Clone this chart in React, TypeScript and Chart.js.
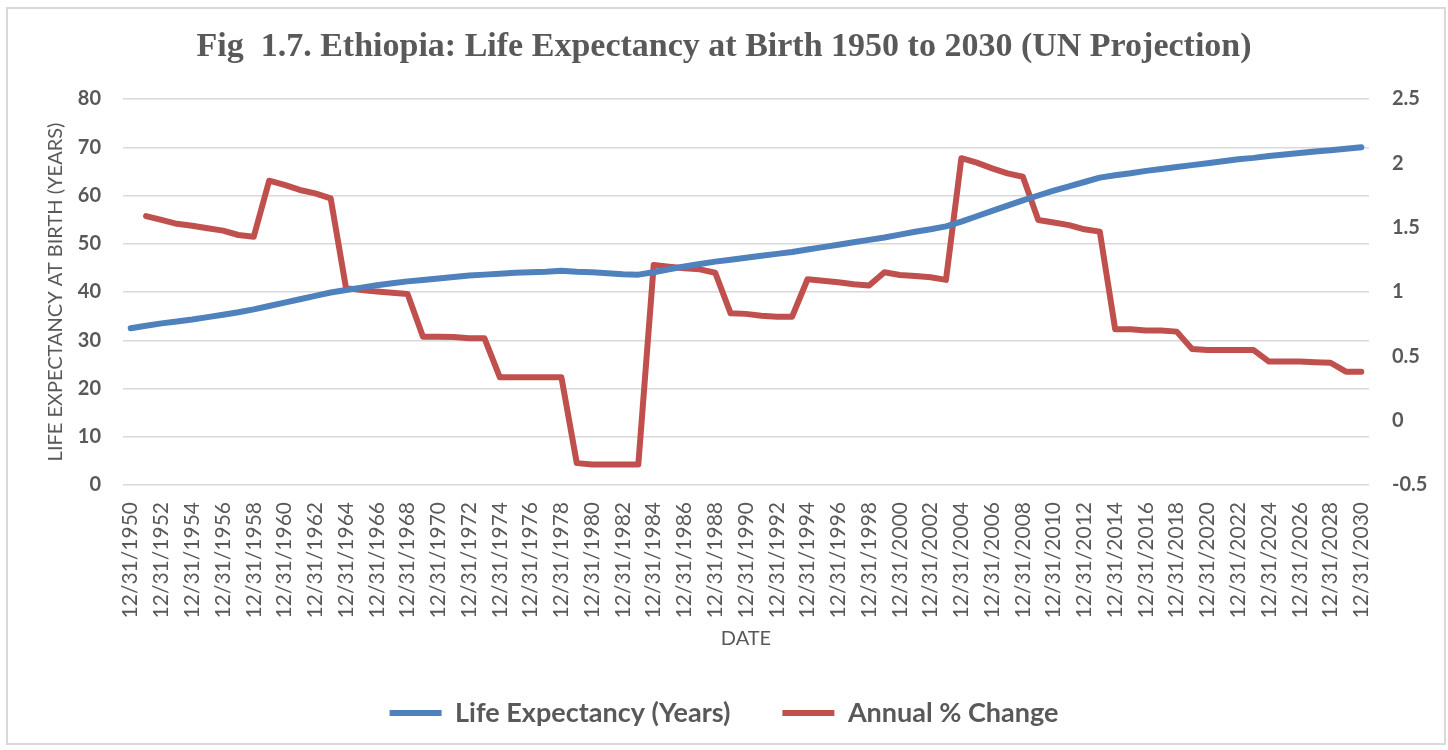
import React, { useEffect, useRef } from 'react';
import { Chart, registerables } from 'chart.js';

Chart.register(...registerables);

const years = [
  1950, 1951, 1952, 1953, 1954, 1955, 1956, 1957, 1958, 1959,
  1960, 1961, 1962, 1963, 1964, 1965, 1966, 1967, 1968, 1969,
  1970, 1971, 1972, 1973, 1974, 1975, 1976, 1977, 1978, 1979,
  1980, 1981, 1982, 1983, 1984, 1985, 1986, 1987, 1988, 1989,
  1990, 1991, 1992, 1993, 1994, 1995, 1996, 1997, 1998, 1999,
  2000, 2001, 2002, 2003, 2004, 2005, 2006, 2007, 2008, 2009,
  2010, 2011, 2012, 2013, 2014, 2015, 2016, 2017, 2018, 2019,
  2020, 2021, 2022, 2023, 2024, 2025, 2026, 2027, 2028, 2029,
  2030,
];

const lifeExpectancy = [
  32.5, 33.0, 33.5, 33.9, 34.3, 34.8, 35.3, 35.8, 36.4, 37.1,
  37.8, 38.5, 39.2, 39.9, 40.4, 40.9, 41.4, 41.8, 42.2, 42.5,
  42.8, 43.1, 43.4, 43.6, 43.8, 44.0, 44.1, 44.2, 44.4, 44.2,
  44.1, 43.9, 43.7, 43.6, 44.1, 44.7, 45.3, 45.8, 46.3, 46.7,
  47.1, 47.5, 47.9, 48.3, 48.8, 49.3, 49.8, 50.3, 50.8, 51.3,
  51.9, 52.5, 53.0, 53.6, 54.6, 55.7, 56.8, 57.9, 59.0, 60.0,
  61.0, 61.9, 62.8, 63.7, 64.2, 64.6, 65.1, 65.5, 65.9, 66.3,
  66.7, 67.1, 67.5, 67.8, 68.2, 68.5, 68.8, 69.1, 69.4, 69.7,
  70.0,
];

const annualChange = [
  null, 1.59, 1.56, 1.53, 1.515, 1.495, 1.477, 1.443, 1.43, 1.865,
  1.832, 1.793, 1.767, 1.728, 1.03, 1.016, 1.003, 0.995, 0.985, 0.653,
  0.653, 0.65, 0.64, 0.64, 0.337, 0.337, 0.337, 0.337, 0.337, -0.33,
  -0.34, -0.34, -0.34, -0.34, 1.21, 1.197, 1.184, 1.176, 1.15, 0.834,
  0.83, 0.816, 0.808, 0.808, 1.099, 1.088, 1.075, 1.06, 1.05, 1.153,
  1.132, 1.125, 1.114, 1.094, 2.04, 2.005, 1.961, 1.922, 1.896, 1.56,
  1.54, 1.52, 1.487, 1.469, 0.71, 0.71, 0.70, 0.70, 0.692, 0.557,
  0.549, 0.549, 0.549, 0.549, 0.459, 0.459, 0.459, 0.454, 0.45, 0.381,
  0.381,
];

const dateLabels = years.map((y) => '12/31/' + y);

const titleText = 'Fig  1.7. Ethiopia: Life Expectancy at Birth 1950 to 2030 (UN Projection)';
const leftAxisTitle = 'LIFE EXPECTANCY AT BIRTH (YEARS)';
const xAxisTitle = 'DATE';
const seriesNames = ['Life Expectancy (Years)', 'Annual % Change'];

const GREY = '#595959';
const GRID = '#d9d9d9';

export default function App() {
  const ref = useRef<HTMLCanvasElement | null>(null);

  useEffect(() => {
    if (!ref.current) return;
    const chart = new Chart(ref.current, {
      type: 'line',
      data: {
        labels: dateLabels,
        datasets: [
          {
            label: seriesNames[0],
            data: lifeExpectancy,
            yAxisID: 'y',
            borderColor: '#4F81BD',
            backgroundColor: '#4F81BD',
            borderWidth: 6,
            pointRadius: 0,
            borderCapStyle: 'round',
            borderJoinStyle: 'round',
            tension: 0,
          },
          {
            label: seriesNames[1],
            data: annualChange,
            yAxisID: 'y1',
            borderColor: '#C0504D',
            backgroundColor: '#C0504D',
            borderWidth: 6,
            pointRadius: 0,
            borderCapStyle: 'round',
            borderJoinStyle: 'round',
            tension: 0,
          },
        ],
      },
      options: {
        animation: false,
        responsive: false,
        maintainAspectRatio: false,
        layout: { padding: { top: 0, left: 0, right: 0, bottom: 13.5 } },
        plugins: {
          title: {
            display: true,
            text: titleText,
            color: GREY,
            font: { family: '"Liberation Serif", serif', size: 34, weight: 'bold' },
            padding: { top: 26.6, bottom: 31.6 },
          },
          legend: {
            position: 'bottom',
            labels: {
              usePointStyle: true,
              pointStyle: 'line',
              pointStyleWidth: 52,
              padding: 52,
              color: GREY,
              font: { family: 'Lato', size: 27, weight: 'bold' },
            },
          },
          tooltip: { enabled: false },
        },
        scales: {
          x: {
            type: 'category',
            offset: true,
            grid: { display: false, drawTicks: false },
            border: { display: false },
            ticks: {
              autoSkip: false,
              maxRotation: 90,
              minRotation: 90,
              padding: 17,
              color: GREY,
              font: { family: 'Lato', size: 21 },
              callback: (_v: any, i: number) => (i % 2 === 0 ? dateLabels[i] : ''),
            },
            title: {
              display: true,
              text: xAxisTitle,
              color: GREY,
              font: { family: 'Lato', size: 20, lineHeight: 0.9 },
              padding: { top: 0, bottom: 0 },
            },
            afterFit: (s: any) => {
              s.height = 162.5;
            },
          },
          y: {
            position: 'left',
            min: 0,
            max: 80,
            grid: { color: GRID, lineWidth: 1.5, drawTicks: false },
            border: { display: false },
            ticks: {
              stepSize: 10,
              padding: 22,
              color: GREY,
              font: { family: 'Lato', size: 20, weight: 'bold' },
            },
            title: {
              display: true,
              text: leftAxisTitle,
              color: GREY,
              font: { family: 'Lato', size: 20 },
              padding: { top: 44, bottom: 0 },
            },
            afterFit: (s: any) => {
              s.width = 123;
            },
          },
          y1: {
            position: 'right',
            min: -0.5,
            max: 2.5,
            grid: { drawOnChartArea: false, drawTicks: false },
            border: { display: false },
            ticks: {
              stepSize: 0.5,
              padding: 23,
              color: GREY,
              font: { family: 'Lato', size: 20, weight: 'bold' },
              callback: (v: any) => String(Math.round(Number(v) * 10) / 10),
            },
            afterFit: (s: any) => {
              s.width = 79;
            },
          },
        },
      },
    });
    return () => chart.destroy();
  }, []);

  return (
    <div style={{ position: 'absolute', left: 0, top: 0, width: 1448, height: 750, background: '#fff' }}>
      <canvas ref={ref} width={1448} height={750} style={{ display: 'block', width: 1448, height: 750 }} />
      <div
        style={{
          position: 'absolute',
          left: 6,
          top: 7,
          width: 1436,
          height: 734,
          border: '2px solid #d9d9d9',
          pointerEvents: 'none',
        }}
      />
    </div>
  );
}
